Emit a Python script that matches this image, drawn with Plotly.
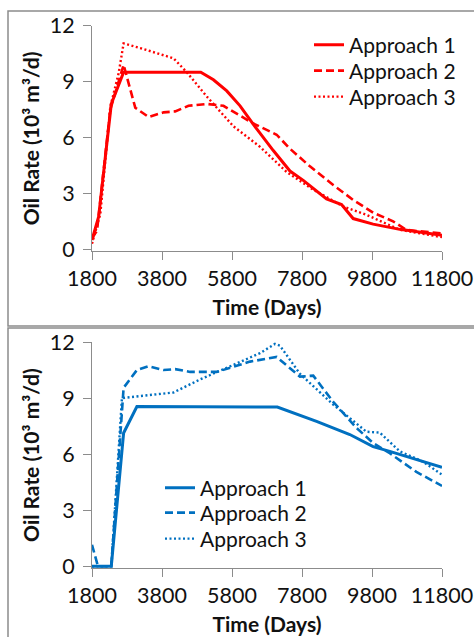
import plotly.graph_objects as go

W, H = 474, 637

# ---------------- data (top panel, red) ----------------
top_a1_x = [1800, 1990, 2351, 2703, 4908, 5270, 5650, 6030, 6410, 6980, 7456, 7836, 8500, 8930, 9262, 9832, 10593, 11800]
top_a1_y = [0.5, 1.75, 7.8, 9.5, 9.5, 9.1, 8.5, 7.7, 6.7, 5.3, 4.2, 3.7, 2.7, 2.4, 1.65, 1.35, 1.07, 0.75]

top_a2_x = [1800, 1943, 2323, 2703, 3036, 3416, 3844, 4176, 4557, 5080, 5555, 6410, 7076, 7456, 8026, 8692, 9262, 9832, 10403, 10783, 11800]
top_a2_y = [0.6, 1.0, 7.5, 9.9, 7.6, 7.1, 7.35, 7.4, 7.7, 7.8, 7.7, 6.75, 6.15, 5.4, 4.45, 3.45, 2.65, 1.97, 1.5, 1.04, 0.85]

top_a3_x = [1800, 2038, 2323, 2561, 2703, 3178, 4129, 4509, 5080, 5840, 6600, 7361, 8121, 8977, 9642, 10593, 11800]
top_a3_y = [0.3, 1.9, 7.65, 9.45, 11.05, 10.8, 10.25, 9.5, 8.2, 6.6, 5.5, 4.15, 3.2, 2.3, 1.85, 1.05, 0.65]

# ---------------- data (bottom panel, blue) ----------------
bot_a1_x = [1800, 2351, 2703, 3083, 7095, 8216, 9167, 9832, 10308, 11800]
bot_a1_y = [0, 0, 7.13, 8.55, 8.52, 7.75, 7.05, 6.4, 6.15, 5.3]

bot_a2_x = [1800, 1971, 2351, 2703, 3083, 3416, 3844, 4176, 4604, 5365, 6315, 7076, 7741, 8121, 8692, 9357, 9832, 10308, 11068, 11800]
bot_a2_y = [1.15, 0, 0, 9.55, 10.5, 10.7, 10.5, 10.55, 10.4, 10.4, 10.95, 11.2, 10.15, 10.2, 8.8, 7.4, 6.6, 6.05, 5.05, 4.3]

bot_a3_x = [1800, 2351, 2655, 3178, 4129, 4890, 5840, 6600, 7029, 7171, 7741, 8692, 9642, 10023, 10593, 11258, 11800]
bot_a3_y = [0, 0, 9.0, 9.1, 9.3, 10.0, 10.8, 11.4, 11.9, 11.8, 10.3, 8.65, 7.2, 7.15, 6.15, 5.6, 4.9]

names = ["Approach 1", "Approach 2", "Approach 3"]
x_ticks = [1800, 3800, 5800, 7800, 9800, 11800]
x_tick_text = ["1800", "3800", "5800", "7800", "9800", "11800"]
y_ticks = [0, 3, 6, 9, 12]
y_tick_text = ["0", "3", "6", "9", "12"]

RED = "#FF0000"
BLUE = "#0070C0"
FONT = "Lato"
TXT = "#111111"

def px_x(p):
    return p / W

def px_y(p):
    return 1 - p / H

fig = go.Figure()

styles = [dict(width=3, dash="solid"), dict(width=2.6, dash="8px,4px"), dict(width=2.4, dash="2px,2.5px")]

top_sets = [(top_a1_x, top_a1_y), (top_a2_x, top_a2_y), (top_a3_x, top_a3_y)]
bot_sets = [(bot_a1_x, bot_a1_y), (bot_a2_x, bot_a2_y), (bot_a3_x, bot_a3_y)]

top_legends = ["legend", "legend3", "legend5"]
bot_legends = ["legend2", "legend4", "legend6"]

for i, (xs, ys) in enumerate(top_sets):
    fig.add_trace(go.Scatter(x=xs, y=ys, mode="lines", name=names[i],
                             line=dict(color=RED, **styles[i]),
                             xaxis="x", yaxis="y", legend=top_legends[i]))
for i, (xs, ys) in enumerate(bot_sets):
    fig.add_trace(go.Scatter(x=xs, y=ys, mode="lines", name=names[i],
                             line=dict(color=BLUE, **styles[i]),
                             xaxis="x2", yaxis="y2", legend=bot_legends[i]))

ypad = 0.1
def ydomain(top_px, zero_px):
    per = (zero_px - top_px) / 12.0
    bottom_px = zero_px + ypad * per
    return [px_y(bottom_px), px_y(top_px)]

axis_common = dict(showgrid=False, zeroline=False, showline=True, linecolor="#8C8C8C",
                   linewidth=1, ticks="outside", tickcolor="#8C8C8C", ticklen=8, tickwidth=1,
                   automargin=False, ticklabeloverflow="allow",
                   tickfont=dict(family=FONT, size=21.5, color=TXT))

xdom = [px_x(92), px_x(442)]
title_font = dict(family=FONT, size=21, color=TXT)

def legend_at(x_px, center_px):
    return dict(x=px_x(x_px), y=px_y(center_px - 20.5), xanchor="left", yanchor="top",
                bgcolor="rgba(0,0,0,0)", font=dict(family=FONT, size=21, color=TXT),
                itemwidth=30)

fig.update_layout(
    template="none",
    width=W, height=H,
    margin=dict(l=0, r=0, t=0, b=0, autoexpand=False),
    paper_bgcolor="white", plot_bgcolor="white",
    showlegend=True,
    xaxis=dict(domain=xdom, range=[1800, 11800], tickvals=x_ticks, ticktext=x_tick_text, anchor="y",
               title=dict(text="<b>Time (Days)</b>", font=title_font, standoff=10),
               ticklabelstandoff=0, **axis_common),
    yaxis=dict(domain=ydomain(25.7, 249.3), range=[-ypad, 12], tickvals=y_ticks, ticktext=y_tick_text, anchor="x",
               title=dict(text="<b>Oil Rate (10³ m³/d)</b>", font=title_font, standoff=4),
               ticklabelstandoff=4, **axis_common),
    xaxis2=dict(domain=xdom, range=[1800, 11800], tickvals=x_ticks, ticktext=x_tick_text, anchor="y2",
                title=dict(text="<b>Time (Days)</b>", font=title_font, standoff=10),
                ticklabelstandoff=0, **axis_common),
    yaxis2=dict(domain=ydomain(342, 566.3), range=[-ypad, 12], tickvals=y_ticks, ticktext=y_tick_text, anchor="x2",
                title=dict(text="<b>Oil Rate (10³ m³/d)</b>", font=title_font, standoff=4),
                ticklabelstandoff=4, **axis_common),
    legend=legend_at(309, 45),
    legend3=legend_at(309, 71),
    legend5=legend_at(309, 97),
    legend2=legend_at(160, 488),
    legend4=legend_at(160, 513),
    legend6=legend_at(160, 539),
    shapes=[
        dict(type="rect", xref="paper", yref="paper", x0=px_x(8), x1=px_x(490), y0=px_y(326), y1=px_y(11),
             line=dict(color="#8C8C8C", width=1.5), fillcolor="rgba(0,0,0,0)", layer="below"),
        dict(type="rect", xref="paper", yref="paper", x0=px_x(8), x1=px_x(490), y0=px_y(660), y1=px_y(328),
             line=dict(color="#8C8C8C", width=1.5), fillcolor="rgba(0,0,0,0)", layer="below"),
    ],
)

fig.write_html("out.html", config={"displayModeBar": False},
               post_script="document.body.style.margin='0px';document.body.style.overflow='hidden';")
